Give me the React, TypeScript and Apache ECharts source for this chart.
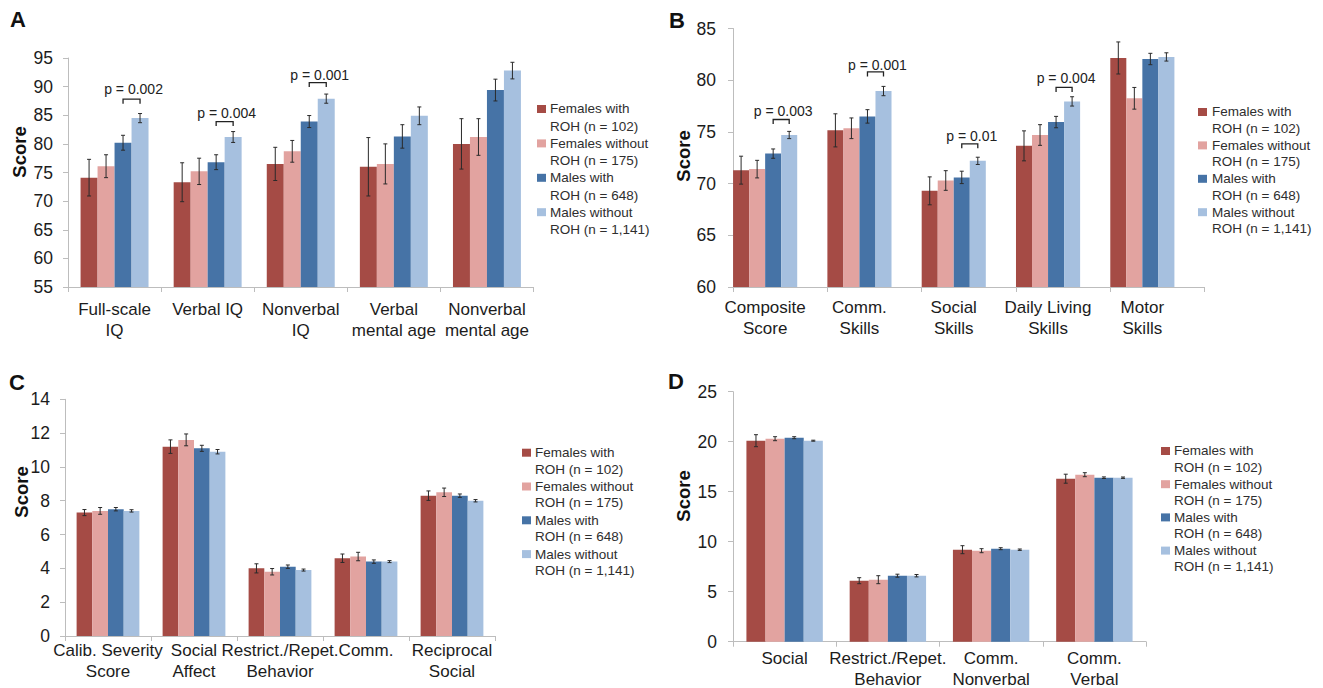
import React, { useEffect, useRef } from 'react';
import * as echarts from 'echarts';

const FONT = '"Liberation Sans", Arial, Helvetica, sans-serif';

// ---------- data ----------
const GROUP_NAMES = ['Females with ROH (n = 102)', 'Females without ROH (n = 175)', 'Males with ROH (n = 648)', 'Males without ROH (n = 1,141)'];
const LEGEND_LABELS = ['Females with\nROH (n = 102)', 'Females without\nROH (n = 175)', 'Males with\nROH (n = 648)', 'Males without\nROH (n = 1,141)'];
const COLORS = ['#A54B45', '#E2A3A0', '#4673A6', '#A6C0DF'];

// Panel A
const catsA = ['Full-scale\nIQ', 'Verbal IQ', 'Nonverbal\nIQ', 'Verbal\nmental age', 'Nonverbal\nmental age'];
const femWithA = [74.1, 73.3, 76.5, 76.0, 80.0];
const femWithoutA = [76.1, 75.2, 78.7, 76.5, 81.2];
const maleWithA = [80.2, 76.8, 83.9, 81.3, 89.4];
const maleWithoutA = [84.5, 81.2, 87.9, 84.9, 92.8];
const errFemWithA = [3.2, 3.4, 2.9, 5.1, 4.4];
const errFemWithoutA = [2.0, 2.3, 1.9, 3.5, 3.2];
const errMaleWithA = [1.3, 1.3, 1.05, 2.05, 1.9];
const errMaleWithoutA = [0.8, 0.95, 0.8, 1.55, 1.45];
const pCatsA = [0, 1, 2];
const pBracketA = [87.8, 83.9, 90.7];
const pTextA = [89.6, 85.4, 92.1];
const pLabelsA = ['p = 0.002', 'p = 0.004', 'p = 0.001'];

// Panel B
const catsB = ['Composite\nScore', 'Comm.\nSkills', 'Social\nSkills', 'Daily Living\nSkills', 'Motor\nSkills'];
const femWithB = [71.3, 75.15, 69.3, 73.65, 82.15];
const femWithoutB = [71.4, 75.35, 70.3, 74.7, 78.25];
const maleWithB = [72.9, 76.5, 70.6, 75.95, 82.05];
const maleWithoutB = [74.7, 78.95, 72.2, 77.95, 82.25];
const errFemWithB = [1.35, 1.6, 1.35, 1.45, 1.55];
const errFemWithoutB = [0.85, 1.0, 0.95, 1.0, 1.05];
const errMaleWithB = [0.45, 0.65, 0.6, 0.55, 0.55];
const errMaleWithoutB = [0.35, 0.45, 0.35, 0.45, 0.4];
const pCatsB = [0, 1, 2, 3];
const pBracketB = [76.2, 80.8, 73.85, 79.3];
const pTextB = [77.05, 81.45, 74.6, 80.2];
const pLabelsB = ['p = 0.003', 'p = 0.001', 'p = 0.01', 'p = 0.004'];

// Panel C
const catsC = ['Calib. Severity\nScore', 'Social\nAffect', 'Restrict./Repet.\nBehavior', 'Comm.', 'Reciprocal\nSocial'];
const femWithC = [7.3, 11.2, 4.0, 4.6, 8.3];
const femWithoutC = [7.4, 11.6, 3.8, 4.7, 8.5];
const maleWithC = [7.5, 11.1, 4.1, 4.4, 8.3];
const maleWithoutC = [7.4, 10.9, 3.9, 4.4, 8.0];
const errFemWithC = [0.18, 0.4, 0.27, 0.25, 0.28];
const errFemWithoutC = [0.2, 0.35, 0.19, 0.25, 0.25];
const errMaleWithC = [0.1, 0.18, 0.1, 0.1, 0.1];
const errMaleWithoutC = [0.07, 0.13, 0.06, 0.06, 0.07];

// Panel D
const catsD = ['Social', 'Restrict./Repet.\nBehavior', 'Comm.\nNonverbal', 'Comm.\nVerbal'];
const femWithD = [20.1, 6.1, 9.2, 16.3];
const femWithoutD = [20.3, 6.2, 9.1, 16.7];
const maleWithD = [20.4, 6.6, 9.3, 16.4];
const maleWithoutD = [20.1, 6.6, 9.2, 16.4];
const errFemWithD = [0.6, 0.3, 0.4, 0.45];
const errFemWithoutD = [0.2, 0.4, 0.2, 0.2];
const errMaleWithD = [0.1, 0.15, 0.1, 0.08];
const errMaleWithoutD = [0.05, 0.12, 0.07, 0.07];

// ---------- layout ----------
const AXIS_COLOR = '#BDBDBD';
const TEXT_COLOR = '#1c1c1c';

type Panel = {
  axis: number;
  cats: string[];
  vals: number[][];
  errs: number[][];
  gap: number;
  pCats?: number[];
  pBracket?: number[];
  pText?: number[];
  pLabels?: string[];
};

const panels: Panel[] = [
  { axis: 0, cats: catsA, vals: [femWithA, femWithoutA, maleWithA, maleWithoutA], errs: [errFemWithA, errFemWithoutA, errMaleWithA, errMaleWithoutA], gap: 0.27, pCats: pCatsA, pBracket: pBracketA, pText: pTextA, pLabels: pLabelsA },
  { axis: 1, cats: catsB, vals: [femWithB, femWithoutB, maleWithB, maleWithoutB], errs: [errFemWithB, errFemWithoutB, errMaleWithB, errMaleWithoutB], gap: 0.32, pCats: pCatsB, pBracket: pBracketB, pText: pTextB, pLabels: pLabelsB },
  { axis: 3, cats: catsC, vals: [femWithC, femWithoutC, maleWithC, maleWithoutC], errs: [errFemWithC, errFemWithoutC, errMaleWithC, errMaleWithoutC], gap: 0.27 },
  { axis: 4, cats: catsD, vals: [femWithD, femWithoutD, maleWithD, maleWithoutD], errs: [errFemWithD, errFemWithoutD, errMaleWithD, errMaleWithoutD], gap: 0.26 },
];

const grids = [
  { left: 68, top: 58, width: 465.5, height: 229 },      // A
  { left: 718, top: 28.5, width: 471.5, height: 258.5 }, // B bars
  { left: 733, top: 28.5, width: 471.5, height: 258.5 }, // B visible axes
  { left: 65, top: 399.3, width: 430, height: 236.7 },   // C
  { left: 733, top: 391.7, width: 413, height: 250 },    // D
];

const yRanges = [
  { min: 55, max: 95, interval: 5, margin: 15, show: true },
  { min: 60, max: 85, interval: 5, margin: 17, show: false },
  { min: 60, max: 85, interval: 5, margin: 17, show: true },
  { min: 0, max: 14, interval: 2, margin: 15, show: true },
  { min: 0, max: 25, interval: 5, margin: 16, show: true },
];

const xLabelMargins = [12, 10, 10, 4, 6];

const legendLayout = [
  { mx: 537, tx: 550, y: 109, step: 34.4, lh: 17.4 },
  { mx: 1198, tx: 1212, y: 112, step: 33.4, lh: 16.6 },
  { mx: 522, tx: 535, y: 452.7, step: 33.8, lh: 16.4 },
  { mx: 1161, tx: 1174, y: 451, step: 33.2, lh: 16.2 },
];

const letters = [
  { t: 'A', x: 18, y: 19 },
  { t: 'B', x: 677, y: 20 },
  { t: 'C', x: 17, y: 382 },
  { t: 'D', x: 676, y: 381 },
];

const scoreLabels = [
  { x: 19, y: 152 },
  { x: 683, y: 156 },
  { x: 21, y: 492 },
  { x: 683, y: 496 },
];

function errorRender(gap: number) {
  return (params: any, api: any) => {
    const cat = api.value(0);
    const g = api.value(1);
    const mean = api.value(2);
    const err = api.value(3);
    const band = api.size([1, 0])[0];
    const gw = band * (1 - gap);
    const bw = gw / 4;
    const c = api.coord([cat, mean]);
    const x = c[0] - gw / 2 + (g + 0.5) * bw;
    const yh = api.coord([cat, mean + err])[1];
    const yl = api.coord([cat, mean - err])[1];
    const cap = 2;
    const st = { stroke: '#2a2a2a', lineWidth: 1 };
    return {
      type: 'group',
      children: [
        { type: 'line', shape: { x1: x, y1: yh, x2: x, y2: yl }, style: st },
        { type: 'line', shape: { x1: x - cap, y1: yh, x2: x + cap, y2: yh }, style: st },
        { type: 'line', shape: { x1: x - cap, y1: yl, x2: x + cap, y2: yl }, style: st },
      ],
    };
  };
}

function bracketRender(gap: number, labels: string[]) {
  return (params: any, api: any) => {
    const cat = api.value(0);
    const by = api.value(1);
    const ty = api.value(2);
    const band = api.size([1, 0])[0];
    const gw = band * (1 - gap);
    const bw = gw / 4;
    const c = api.coord([cat, by]);
    const x1 = c[0] - gw / 2 + 2.5 * bw;
    const x2 = c[0] - gw / 2 + 3.5 * bw;
    const y = c[1];
    const yt = api.coord([cat, ty])[1];
    return {
      type: 'group',
      children: [
        {
          type: 'polyline',
          shape: { points: [[x1, y + 4.5], [x1, y], [x2, y], [x2, y + 4.5]] },
          style: { stroke: '#222', lineWidth: 1.3, fill: 'none' },
        },
        {
          type: 'text',
          x: (x1 + x2) / 2 + 2,
          y: yt,
          style: { text: labels[params.dataIndex], fill: '#222', fontSize: 14, fontFamily: FONT, align: 'center', verticalAlign: 'middle' },
        },
      ],
    };
  };
}

function buildOption() {
  const xAxis = grids.map((_, i) => {
    const base: any = {
      type: 'category',
      gridIndex: i,
      boundaryGap: true,
      axisLine: { show: true, lineStyle: { color: AXIS_COLOR, width: 1 } },
      axisTick: { show: true, length: 5, lineStyle: { color: AXIS_COLOR } },
      axisLabel: {
        show: true,
        interval: 0,
        hideOverlap: false,
        margin: xLabelMargins[i],
        color: TEXT_COLOR,
        fontSize: 17,
        lineHeight: 21,
        fontFamily: FONT,
      },
      splitLine: { show: false },
    };
    if (i === 0) base.data = catsA;
    if (i === 1) {
      base.data = catsB;
      base.axisLine = { show: false };
      base.axisTick = { show: false };
    }
    if (i === 2) {
      base.data = catsB.map(() => '');
      base.axisLabel = { show: false };
    }
    if (i === 3) base.data = catsC;
    if (i === 4) base.data = catsD;
    return base;
  });

  const yAxis = yRanges.map((r, i) => ({
    type: 'value',
    gridIndex: i,
    min: r.min,
    max: r.max,
    interval: r.interval,
    show: r.show,
    axisLine: { show: true, lineStyle: { color: AXIS_COLOR, width: 1 } },
    axisTick: { show: true, length: 5, lineStyle: { color: AXIS_COLOR } },
    axisLabel: { color: TEXT_COLOR, fontSize: 17.5, fontFamily: FONT, margin: r.margin },
    splitLine: { show: false },
  }));

  const series: any[] = [];
  panels.forEach((p) => {
    p.vals.forEach((vals, g) => {
      series.push({
        type: 'bar',
        name: GROUP_NAMES[g],
        xAxisIndex: p.axis,
        yAxisIndex: p.axis,
        data: vals,
        barGap: '0%',
        barCategoryGap: `${p.gap * 100}%`,
        itemStyle: { color: COLORS[g] },
        emphasis: { disabled: true },
      });
    });
    const errData: number[][] = [];
    p.vals.forEach((vals, g) => {
      vals.forEach((v, i) => errData.push([i, g, v, p.errs[g][i]]));
    });
    series.push({
      type: 'custom',
      name: 'error bars',
      xAxisIndex: p.axis,
      yAxisIndex: p.axis,
      renderItem: errorRender(p.gap),
      data: errData,
      encode: { x: 0, y: 2 },
      z: 5,
      silent: true,
    });
    if (p.pCats) {
      series.push({
        type: 'custom',
        name: 'p values',
        xAxisIndex: p.axis,
        yAxisIndex: p.axis,
        renderItem: bracketRender(p.gap, p.pLabels!),
        data: p.pCats.map((c, i) => [c, p.pBracket![i], p.pText![i]]),
        encode: { x: 0, y: 1 },
        z: 6,
        silent: true,
      });
    }
  });

  const graphic: any[] = [];
  letters.forEach((l) => {
    graphic.push({
      type: 'text',
      x: l.x,
      y: l.y,
      style: { text: l.t, fill: '#111', font: `bold 22px ${FONT}`, align: 'center', verticalAlign: 'middle' },
    });
  });
  scoreLabels.forEach((s) => {
    graphic.push({
      type: 'text',
      x: s.x,
      y: s.y,
      rotation: Math.PI / 2,
      style: { text: 'Score', fill: '#111', font: `bold 18.5px ${FONT}`, align: 'center', verticalAlign: 'middle' },
    });
  });
  legendLayout.forEach((L) => {
    LEGEND_LABELS.forEach((lbl, g) => {
      const cy = L.y + g * L.step;
      graphic.push({
        type: 'rect',
        shape: { x: L.mx, y: cy - 4, width: 9, height: 8 },
        style: { fill: COLORS[g] },
      });
      graphic.push({
        type: 'text',
        x: L.tx,
        y: cy - L.lh / 2,
        style: { text: lbl, fill: '#2e2e2e', fontSize: 13.5, fontFamily: FONT, lineHeight: L.lh, align: 'left', verticalAlign: 'top' },
      });
    });
  });

  return {
    animation: false,
    backgroundColor: '#ffffff',
    textStyle: { fontFamily: FONT },
    grid: grids.map((g) => ({ ...g, containLabel: false, outerBoundsMode: 'none' })),
    xAxis,
    yAxis,
    series,
    graphic,
  };
}

export default function App() {
  const ref = useRef<HTMLDivElement>(null);
  useEffect(() => {
    if (!ref.current) return;
    const chart = echarts.init(ref.current, null, { renderer: 'svg' });
    chart.setOption(buildOption() as any);
    return () => chart.dispose();
  }, []);
  return (
    <div
      ref={ref}
      style={{ position: 'fixed', left: 0, top: 0, width: 1323, height: 688, background: '#fff' }}
    />
  );
}
